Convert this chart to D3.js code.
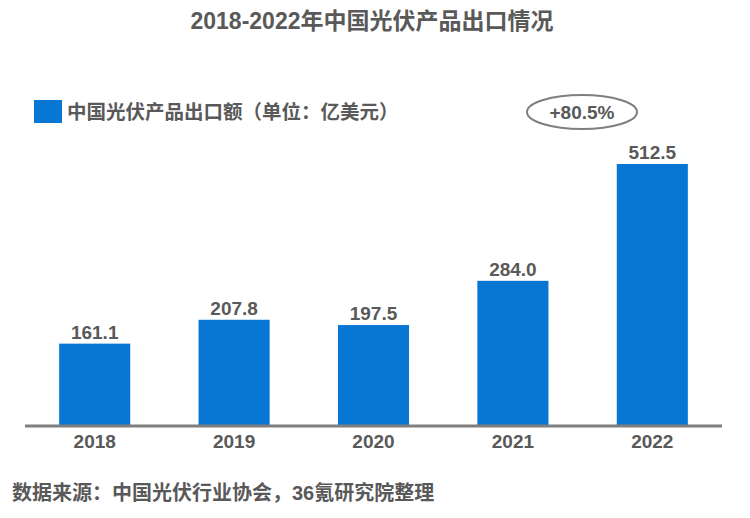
<!DOCTYPE html>
<html><head><meta charset="utf-8">
<script src="https://cdn.jsdelivr.net/npm/d3@7"></script>
<style>
html,body{margin:0;padding:0;background:#fff;}
svg text{font-family:"Liberation Sans","Noto Sans CJK SC",sans-serif;}
</style></head>
<body>
<script>
const years = ["2018","2019","2020","2021","2022"];
const values = [161.1, 207.8, 197.5, 284.0, 512.5];
const valueLabels = ["161.1","207.8","197.5","284.0","512.5"];
const title = "2018-2022年中国光伏产品出口情况";
const legendLabel = "中国光伏产品出口额（单位：亿美元）";
const growthLabel = "+80.5%";
const sourceLabel = "数据来源：中国光伏行业协会，36氪研究院整理";

const W = 750, H = 518;
const gray = "#595959", blue = "#0877d3";
const svg = d3.select("body").append("svg").attr("width", W).attr("height", H);
svg.append("rect").attr("width", W).attr("height", H).attr("fill", "#fff");

const x = d3.scaleBand().domain(years).range([25, 722]).paddingInner(0.49).paddingOuter(0.245);
const y = d3.scaleLinear().domain([0, 512.5]).range([426, 164]);

svg.append("text").attr("x", 372).attr("y", 29).attr("text-anchor", "middle")
  .attr("font-size", 23).attr("font-weight", "bold").attr("fill", gray).text(title);

// legend
svg.append("rect").attr("x", 34).attr("y", 100).attr("width", 28).attr("height", 23).attr("fill", blue);
svg.append("text").attr("x", 67).attr("y", 119).attr("font-size", 19.5).attr("font-weight", "bold")
  .attr("fill", gray).text(legendLabel);

// bars
svg.selectAll("rect.bar").data(values).join("rect").attr("class", "bar")
  .attr("x", (d, i) => x(years[i])).attr("width", x.bandwidth())
  .attr("y", d => y(d)).attr("height", d => y(0) - y(d)).attr("fill", blue);

svg.selectAll("text.val").data(values).join("text").attr("class", "val")
  .attr("x", (d, i) => x(years[i]) + x.bandwidth() / 2).attr("y", d => y(d) - 5)
  .attr("text-anchor", "middle").attr("font-size", 19).attr("font-weight", "bold")
  .attr("fill", gray).text((d, i) => valueLabels[i]);

// axis
const axis = svg.append("g").attr("transform", "translate(0,426)")
  .call(d3.axisBottom(x).tickSize(0).tickPadding(9));
axis.select(".domain").attr("stroke", "#7f7f7f").attr("stroke-width", 3).attr("d", "M25,0H722");
axis.selectAll(".tick text").attr("font-size", 19).attr("font-weight", "bold").attr("fill", gray)
  .style("font-family", '"Liberation Sans","Noto Sans CJK SC",sans-serif');

// growth ellipse
svg.append("ellipse").attr("cx", 582).attr("cy", 112).attr("rx", 55).attr("ry", 17)
  .attr("fill", "#fff").attr("stroke", "#7f7f7f").attr("stroke-width", 2);
svg.append("text").attr("x", 582).attr("y", 119).attr("text-anchor", "middle").attr("font-size", 19)
  .attr("font-weight", "bold").attr("fill", gray).text(growthLabel);

// source
svg.append("text").attr("x", 12).attr("y", 500).attr("font-size", 20).attr("font-weight", "bold")
  .attr("fill", gray).text(sourceLabel);
</script>
</body></html>
